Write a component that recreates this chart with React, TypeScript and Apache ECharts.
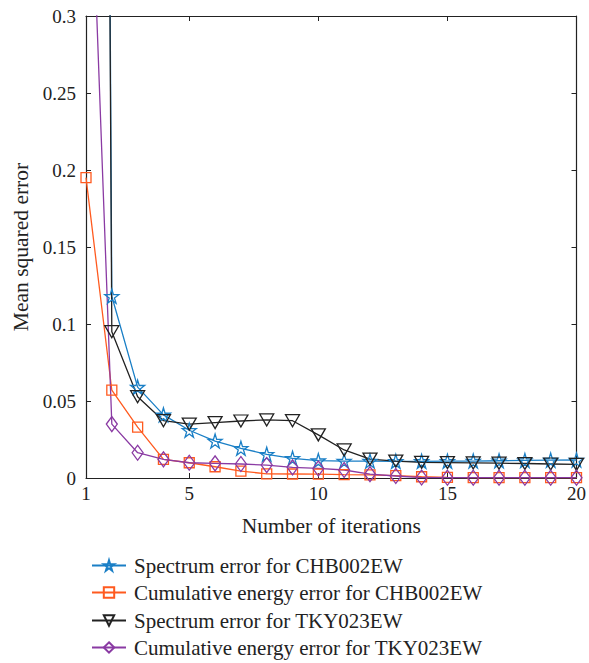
import React, { useEffect, useRef } from "react";
import * as echarts from "echarts";

const iterations = [1, 2, 3, 4, 5, 6, 7, 8, 9, 10, 11, 12, 13, 14, 15, 16, 17, 18, 19, 20];
const spectrumCHB = [3.0, 0.118, 0.059, 0.041, 0.031, 0.024, 0.0193, 0.0154, 0.0128, 0.0113, 0.011, 0.011, 0.0108, 0.0108, 0.0109, 0.011, 0.0112, 0.0114, 0.0116, 0.0117];
const energyCHB = [0.195, 0.057, 0.033, 0.0121, 0.0099, 0.0073, 0.0045, 0.0027, 0.0026, 0.0025, 0.0022, 0.002, 0.0015, 0.0008, 0.0004, 0.0003, 0.0003, 0.0003, 0.0003, 0.0003];
const spectrumTKY = [3.0, 0.095, 0.0528, 0.0372, 0.035, 0.036, 0.037, 0.0377, 0.0372, 0.028, 0.0182, 0.0123, 0.011, 0.0102, 0.01, 0.0098, 0.0096, 0.0094, 0.0091, 0.0088];
const energyTKY = [0.49, 0.035, 0.0164, 0.0121, 0.0099, 0.0095, 0.0091, 0.0084, 0.0069, 0.0062, 0.0052, 0.0025, 0.0013, 0.0003, 0.0002, 0.0002, 0.0002, 0.0002, 0.0002, 0.0002];
const xTicks = [1, 5, 10, 15, 20];
const seriesNames = [
  "Spectrum error for CHB002EW",
  "Cumulative energy error for CHB002EW",
  "Spectrum error for TKY023EW",
  "Cumulative energy error for TKY023EW",
];

const STAR = "path://M50,0 L61,35 L98,35 L68,57 L79,91 L50,70 L21,91 L32,57 L2,35 L39,35 Z";
const FONT = "'Liberation Serif', 'DejaVu Serif', serif";

export default function App() {
  const ref = useRef<HTMLDivElement>(null);
  useEffect(() => {
    const chart = echarts.init(ref.current!, null, { renderer: "svg" });
    const mk = (name: string, data: number[], color: string, symbol: string, size: any, rotate = 0) => ({
      name,
      type: "line",
      data: iterations.map((x, i) => [x, data[i]]),
      symbol,
      symbolSize: size,
      symbolRotate: rotate,
      showAllSymbol: true,
      clip: true,
      lineStyle: { color, width: 1.3 },
      itemStyle: { color: "rgba(255,255,255,0)", borderColor: color, borderWidth: 1.3 },
      emphasis: { disabled: true },
    });
    const axisCommon = {
      axisLine: { show: true, onZero: false, lineStyle: { color: "#222", width: 1.2 } },
      axisTick: { show: true, inside: true, length: 5, lineStyle: { color: "#222" } },
      splitLine: { show: false },
    };
    const legendTops = [550, 577, 605, 632];
    const legends = seriesNames.map((n, i) => ({
      orient: "vertical",
      left: 86,
      top: legendTops[i],
      itemWidth: 34,
      itemHeight: 13,
      selectedMode: false,
      data: [n],
      textStyle: { fontFamily: FONT, fontSize: 21, color: "#222", lineHeight: 21, padding: [0, 0, 0, 3] },
    }));
    chart.setOption({
      animation: false,
      backgroundColor: "#fff",
      grid: { left: 86, right: 10, top: 16, bottom: 185 },
      legend: legends,
      xAxis: [
        {
          type: "value",
          min: 1,
          max: 20,
          ...axisCommon,
          axisTick: { ...axisCommon.axisTick, customValues: xTicks },
          axisLabel: { customValues: xTicks, fontFamily: FONT, fontSize: 19, color: "#222", margin: 6 },
          name: "Number of iterations",
          nameLocation: "middle",
          nameGap: 37,
          nameTextStyle: { fontFamily: FONT, fontSize: 21.5, color: "#222" },
        },
        {
          type: "value",
          position: "top",
          min: 1,
          max: 20,
          ...axisCommon,
          axisTick: { ...axisCommon.axisTick, customValues: xTicks },
          axisLabel: { show: false, customValues: xTicks },
        },
      ],
      yAxis: [
        {
          type: "value",
          min: 0,
          max: 0.3,
          interval: 0.05,
          ...axisCommon,
          axisLabel: { fontFamily: FONT, fontSize: 19, color: "#222", margin: 10 },
          name: "Mean squared error",
          nameLocation: "middle",
          nameGap: 54,
          nameTextStyle: { fontFamily: FONT, fontSize: 21.5, color: "#222" },
        },
        {
          type: "value",
          position: "right",
          min: 0,
          max: 0.3,
          interval: 0.05,
          ...axisCommon,
          axisLabel: { show: false },
        },
      ],
      series: [
        mk(seriesNames[0], spectrumCHB, "#1a7fc6", STAR, 14),
        mk(seriesNames[1], energyCHB, "#ff5a1f", "rect", 10),
        mk(seriesNames[2], spectrumTKY, "#222222", "triangle", [14, 12], 180),
        mk(seriesNames[3], energyTKY, "#8a3aa3", "diamond", [11, 15]),
      ],
    });
    return () => chart.dispose();
  }, []);
  return <div ref={ref} style={{ width: 589, height: 663, position: "absolute", left: 0, top: 0 }} />;
}
